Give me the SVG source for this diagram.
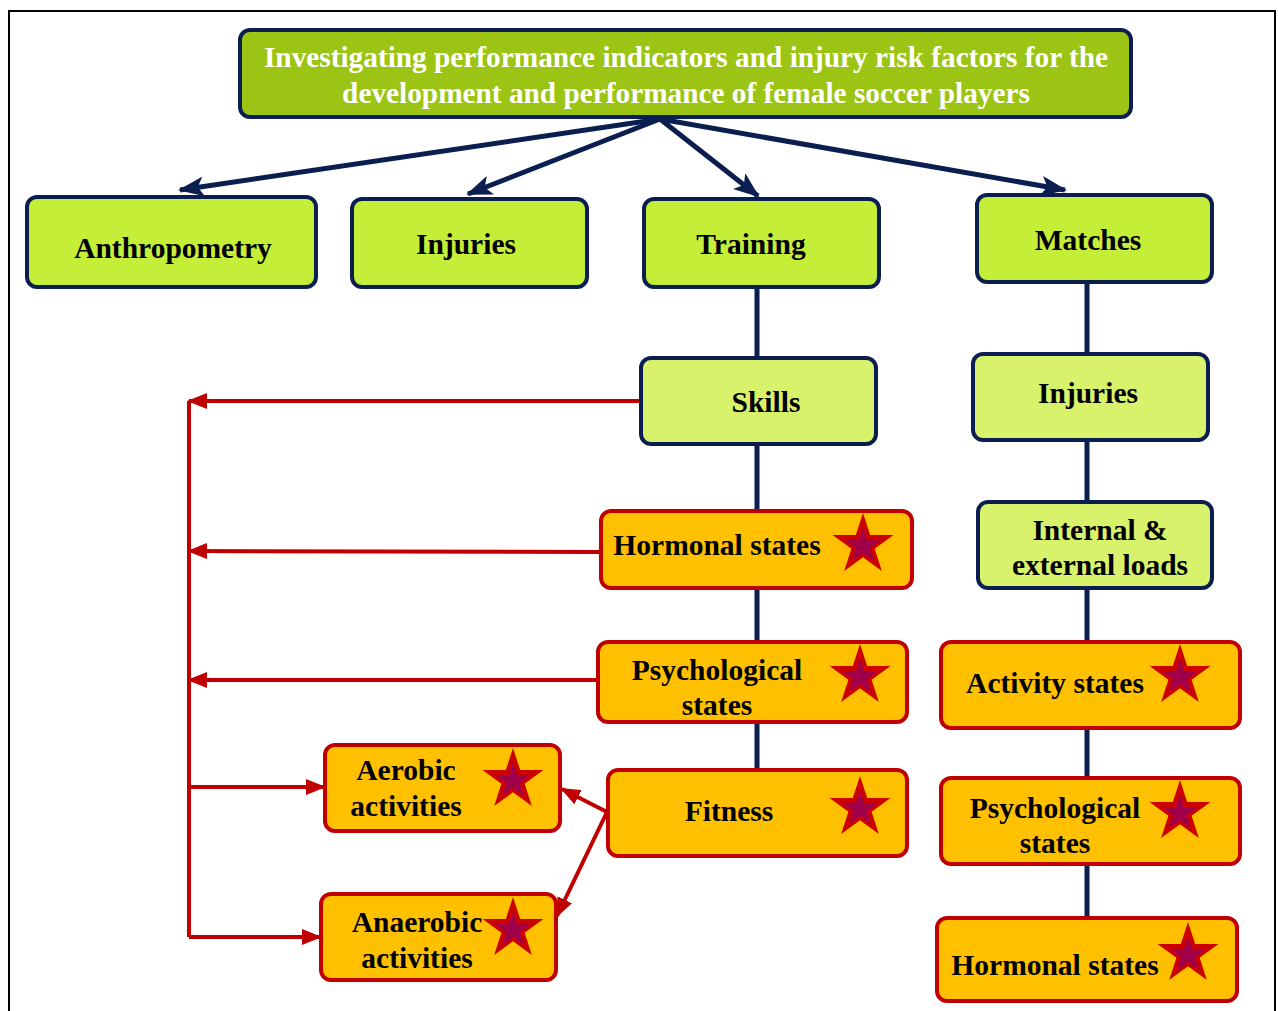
<svg xmlns="http://www.w3.org/2000/svg" xmlns:xlink="http://www.w3.org/1999/xlink" width="1278" height="1011" viewBox="0 0 1278 1011">
<style>
text{font-family:"Liberation Serif","Times New Roman",serif;font-weight:bold;font-size:29.5px;fill:#000;text-anchor:middle}
.top{fill:#9CC414;stroke:#0A1E50;stroke-width:4}
.top-t{fill:#fff;font-size:29.3px}
.l2{fill:#C4EE38;stroke:#0A1E50;stroke-width:4}
.l3{fill:#D8F26C;stroke:#0A1E50;stroke-width:4}
.or{fill:#FFC000;stroke:#C00000;stroke-width:4}
.nv{stroke:#0A1E50;stroke-width:5;fill:none}
.rd{stroke:#C00000;stroke-width:4;fill:none}
</style>
<defs>
<marker id="an" viewBox="0 0 26 20" refX="24" refY="10" markerWidth="26" markerHeight="20" orient="auto" markerUnits="userSpaceOnUse"><path d="M0,0 L26,10 L0,20 L6,10 Z" fill="#0A1E50"/></marker>
<marker id="ar" viewBox="0 0 20 16" refX="18" refY="8" markerWidth="20" markerHeight="16" orient="auto" markerUnits="userSpaceOnUse"><path d="M0,0 L20,8 L0,16 Z" fill="#C00000"/></marker>
<g id="star">
<polygon points="0,-32 7.18,-9.89 30.43,-9.89 11.62,3.78 18.82,25.89 0,12.22 -18.82,25.89 -11.62,3.78 -30.43,-9.89 -7.18,-9.89" fill="#CC0000"/>
<polygon points="0,-32 7.18,-9.89 30.43,-9.89 11.62,3.78 18.82,25.89 0,12.22 -18.82,25.89 -11.62,3.78 -30.43,-9.89 -7.18,-9.89" fill="#A0004A" transform="translate(0,1) scale(0.58)"/>
</g>
</defs>
<rect width="1278" height="1011" fill="#fff"/>
<path d="M9,1011 V11 H1275 V1011" fill="none" stroke="#000" stroke-width="2"/>

<g id="connectors">
<line class="nv" x1="660" y1="119" x2="180" y2="190" marker-end="url(#an)"/>
<line class="nv" x1="660" y1="119" x2="468" y2="194" marker-end="url(#an)"/>
<line class="nv" x1="660" y1="119" x2="758" y2="196" marker-end="url(#an)"/>
<line class="nv" x1="660" y1="119" x2="1065" y2="190" marker-end="url(#an)"/>
<line class="nv" x1="757" y1="287" x2="757" y2="770"/>
<line class="nv" x1="1087" y1="282" x2="1087" y2="918"/>
<line class="rd" x1="189" y1="401" x2="189" y2="937"/>
<line class="rd" x1="641" y1="401" x2="189" y2="401" marker-end="url(#ar)"/>
<line class="rd" x1="600" y1="552" x2="189" y2="551" marker-end="url(#ar)"/>
<line class="rd" x1="597" y1="680" x2="189" y2="680" marker-end="url(#ar)"/>
<line class="rd" x1="189" y1="787" x2="324" y2="787" marker-end="url(#ar)"/>
<line class="rd" x1="189" y1="937" x2="320" y2="937" marker-end="url(#ar)"/>
<line class="rd" x1="607" y1="812" x2="562" y2="789" marker-end="url(#ar)"/>
<line class="rd" x1="607" y1="812" x2="557" y2="916" marker-end="url(#ar)"/>
</g>

<g id="n-title"><rect class="top" x="240" y="30" width="891" height="87" rx="10"/>
<text class="top-t" x="686" y="67">Investigating performance indicators and injury risk factors for the</text>
<text class="top-t" x="686" y="103">development and performance of female soccer players</text></g>

<g id="n-anthropometry"><rect class="l2" x="27" y="197" width="289" height="90" rx="10"/><text x="173" y="258">Anthropometry</text></g>
<g id="n-injuries"><rect class="l2" x="352" y="199" width="235" height="88" rx="10"/><text x="466" y="254">Injuries</text></g>
<g id="n-training"><rect class="l2" x="644" y="199" width="235" height="88" rx="10"/><text x="751" y="254">Training</text></g>
<g id="n-matches"><rect class="l2" x="977" y="195" width="235" height="87" rx="10"/><text x="1088" y="250">Matches</text></g>

<g id="n-skills"><rect class="l3" x="641" y="358" width="235" height="86" rx="10"/><text x="766" y="412">Skills</text></g>
<g id="n-hormonal-t"><rect class="or" x="601" y="511" width="311" height="77" rx="10"/><text x="717" y="555">Hormonal states</text><use xlink:href="#star" x="863" y="545"/></g>
<g id="n-psych-t"><rect class="or" x="598" y="642" width="309" height="80" rx="10"/><text x="717" y="680">Psychological</text><text x="717" y="715">states</text><use xlink:href="#star" x="860" y="676"/></g>
<g id="n-fitness"><rect class="or" x="608" y="770" width="299" height="86" rx="10"/><text x="729" y="821">Fitness</text><use xlink:href="#star" x="860" y="808"/></g>
<g id="n-aerobic"><rect class="or" x="325" y="745" width="235" height="86" rx="10"/><text x="406" y="780">Aerobic</text><text x="406" y="816">activities</text><use xlink:href="#star" x="513" y="780"/></g>
<g id="n-anaerobic"><rect class="or" x="321" y="894" width="235" height="86" rx="10"/><text x="417" y="932">Anaerobic</text><text x="417" y="968">activities</text><use xlink:href="#star" x="513" y="929"/></g>

<g id="n-injuries-m"><rect class="l3" x="973" y="354" width="235" height="86" rx="10"/><text x="1088" y="403">Injuries</text></g>
<g id="n-loads"><rect class="l3" x="978" y="502" width="234" height="86" rx="10"/><text x="1100" y="540">Internal &amp;</text><text x="1100" y="575">external loads</text></g>
<g id="n-activity"><rect class="or" x="941" y="642" width="299" height="86" rx="10"/><text x="1055" y="693">Activity states</text><use xlink:href="#star" x="1180" y="676"/></g>
<g id="n-psych-m"><rect class="or" x="941" y="778" width="299" height="86" rx="10"/><text x="1055" y="818">Psychological</text><text x="1055" y="853">states</text><use xlink:href="#star" x="1180" y="812"/></g>
<g id="n-hormonal-m"><rect class="or" x="937" y="918" width="300" height="83" rx="10"/><text x="1055" y="975">Hormonal states</text><use xlink:href="#star" x="1188" y="954"/></g>
</svg>
